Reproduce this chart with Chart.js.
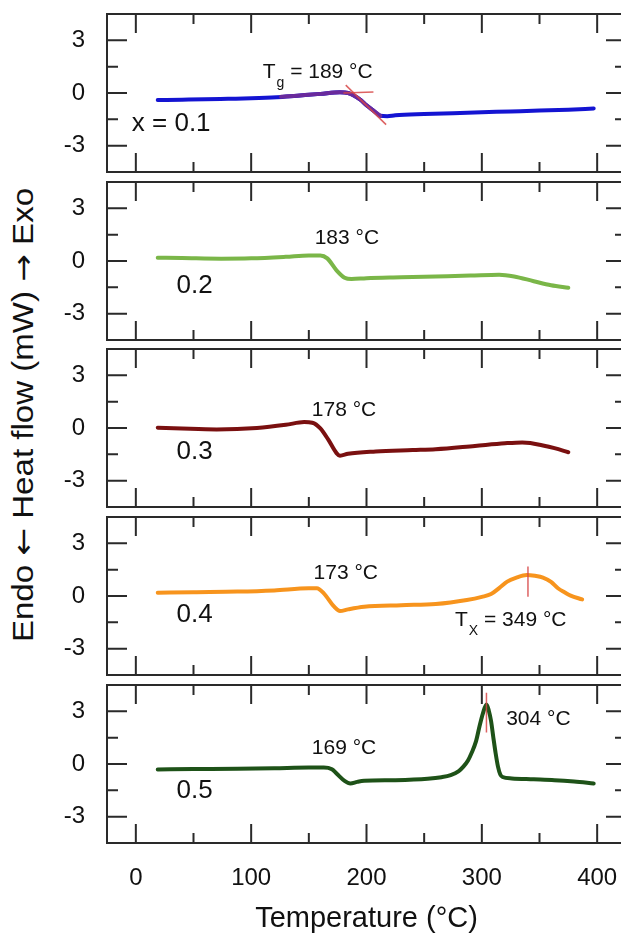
<!DOCTYPE html>
<html>
<head>
<meta charset="utf-8">
<script src="https://cdn.jsdelivr.net/npm/chart.js@4.4.1/dist/chart.umd.min.js"></script>
<style>
  html, body { margin: 0; padding: 0; background: #fff; }
  #wrap { position: relative; width: 621px; height: 933px; overflow: hidden; }
  #wrap canvas { position: absolute; left: 0; }
  #ytitle {
    position: absolute; left: 23px; top: 415px;
    transform: translate(-50%, -50%) rotate(-90deg) scaleX(1.14);
    font: 29px "Liberation Sans", Arial, sans-serif; color: #111; white-space: nowrap;
  }
  #ytitle span { font-family: "DejaVu Sans", sans-serif; }
</style>
</head>
<body>
<div id="wrap">
  <div id="ytitle">Endo <span>←</span> Heat flow (mW) <span>→</span> Exo</div>
</div>
<script>
// axis ticks
const xLabels = [0, 100, 200, 300, 400];
const xMinor = [50, 150, 250, 350];
const yLabels = [-3, 0, 3];
const yMinor = [-1.5, 1.5];

// x = 0.1
const temp01 = [19, 40, 60, 80, 100, 122, 140, 160, 177, 184, 189, 195, 200, 206, 212, 218, 225, 250, 275, 300, 325, 350, 375, 397];
const flow01 = [-0.4, -0.38, -0.36, -0.33, -0.3, -0.24, -0.15, -0.05, 0.04, 0.0, -0.14, -0.4, -0.7, -1.0, -1.3, -1.32, -1.27, -1.2, -1.15, -1.1, -1.05, -1.0, -0.95, -0.88];
const fitTemp01 = [126, 140, 160, 177, 184, 189, 195, 200, 206, 212];
const fitFlow01 = [-0.22, -0.15, -0.05, 0.04, 0.0, -0.14, -0.4, -0.7, -1.0, -1.3];
const tanTempA = [180, 206];
const tanFlowA = [0.0, 0.05];
const tanTempB = [182, 217];
const tanFlowB = [0.45, -1.8];

// x = 0.2
const temp02 = [19, 40, 74, 100, 130, 150, 160, 166, 174, 181, 187, 200, 230, 260, 290, 315, 328, 345, 360, 375];
const flow02 = [0.19, 0.17, 0.13, 0.15, 0.24, 0.32, 0.32, 0.15, -0.53, -0.95, -1.03, -0.98, -0.93, -0.88, -0.83, -0.78, -0.88, -1.15, -1.38, -1.52];

// x = 0.3
const temp03 = [19, 40, 70, 105, 130, 146, 153, 160, 167, 174, 177, 184, 208, 240, 260, 294, 320, 335, 342, 352, 363, 375];
const flow03 = [0.02, -0.03, -0.08, 0, 0.18, 0.34, 0.3, -0.02, -0.68, -1.43, -1.58, -1.47, -1.34, -1.26, -1.21, -1.02, -0.87, -0.82, -0.85, -0.98, -1.15, -1.38];

// x = 0.4
const temp04 = [19, 50, 88, 120, 150, 157, 163, 172, 177, 184, 198, 230, 260, 287, 300, 308, 315, 322, 330, 339, 346, 353, 360, 366, 372, 377, 387];
const flow04 = [0.19, 0.22, 0.25, 0.32, 0.44, 0.44, 0.15, -0.61, -0.86, -0.76, -0.61, -0.52, -0.46, -0.23, -0.05, 0.11, 0.45, 0.82, 1.05, 1.2, 1.15, 1.05, 0.8, 0.44, 0.2, 0.02, -0.19];
const markTemp04 = [340, 340];
const markFlow04 = [1.68, -0.04];

// x = 0.5
const temp05 = [19, 50, 88, 120, 150, 163, 170, 174, 181, 186, 192, 198, 225, 253, 265, 273, 280, 284, 288, 291, 295, 298, 301, 304, 306, 308, 310, 312, 314, 316, 318, 326, 345, 363, 380, 397];
const flow05 = [-0.31, -0.29, -0.27, -0.24, -0.2, -0.2, -0.3, -0.54, -0.96, -1.11, -1.02, -0.96, -0.92, -0.84, -0.75, -0.63, -0.4, -0.15, 0.2, 0.61, 1.3, 2.15, 2.9, 3.39, 3.05, 2.45, 1.5, 0.6, -0.15, -0.6, -0.74, -0.82, -0.87, -0.92, -1.0, -1.11];
const markTemp05 = [304, 304];
const markFlow05 = [4.06, 1.8];

const FONT = '"Liberation Sans", Arial, sans-serif';
Chart.defaults.font.family = FONT;

const pts = (xs, ys) => xs.map((x, i) => ({ x: x, y: ys[i] }));

function curve(xs, ys, color, order) {
  return { data: pts(xs, ys), borderColor: color, borderWidth: 4, pointRadius: 0,
    cubicInterpolationMode: 'monotone', borderCapStyle: 'round', borderJoinStyle: 'round', order: order };
}
function marker(xs, ys) {
  return { data: pts(xs, ys), borderColor: 'rgba(215,70,70,0.85)', borderWidth: 1.5, pointRadius: 0, order: 0 };
}

// frame, inward ticks and notes
function deco(notes) {
  return {
    id: 'deco',
    afterDatasetsDraw(chart) {
      const { ctx, chartArea: a, scales: { x, y } } = chart;
      ctx.save();
      ctx.strokeStyle = '#2a2a2a';
      ctx.lineWidth = 2;
      ctx.strokeRect(a.left, a.top, a.right - a.left, a.bottom - a.top);
      ctx.beginPath();
      const xt = (v, len) => {
        const p = x.getPixelForValue(v);
        ctx.moveTo(p, a.top); ctx.lineTo(p, a.top + len);
        ctx.moveTo(p, a.bottom); ctx.lineTo(p, a.bottom - len);
      };
      const yt = (v, len) => {
        const p = y.getPixelForValue(v);
        ctx.moveTo(a.left, p); ctx.lineTo(a.left + len, p);
        ctx.moveTo(a.right, p); ctx.lineTo(a.right - len, p);
      };
      xLabels.forEach(v => xt(v, 19));
      xMinor.forEach(v => xt(v, 10));
      yLabels.forEach(v => yt(v, 20));
      yMinor.forEach(v => yt(v, 11));
      ctx.stroke();

      ctx.fillStyle = '#111';
      ctx.textBaseline = 'middle';
      notes.forEach(n => {
        let px = x.getPixelForValue(n.x);
        const py = y.getPixelForValue(n.y);
        ctx.font = n.size + 'px ' + FONT;
        if (n.sub) {
          ctx.textAlign = 'left';
          ctx.fillText('T', px, py);
          px += ctx.measureText('T').width + 1;
          ctx.font = '14px ' + FONT;
          ctx.fillText(n.sub, px, py + 11);
          px += ctx.measureText(n.sub).width;
          ctx.font = n.size + 'px ' + FONT;
          ctx.fillText(n.text, px, py);
        } else {
          ctx.textAlign = n.align || 'center';
          ctx.fillText(n.text, px, py);
        }
      });
      ctx.restore();
    }
  };
}

const wrap = document.getElementById('wrap');

function panel(top, datasets, notes, last) {
  last = !!last;
  const canvas = document.createElement('canvas');
  canvas.width = 640;
  canvas.height = last ? 933 - (top - 8) : 174;
  canvas.style.top = (top - 8) + 'px';
  wrap.appendChild(canvas);
  new Chart(canvas, {
    type: 'line',
    data: { datasets: datasets },
    options: {
      responsive: false,
      animation: false,
      layout: { padding: { top: 8, bottom: last ? 0 : 8, left: 0, right: 14 } },
      plugins: { legend: { display: false }, tooltip: { enabled: false } },
      scales: {
        x: {
          type: 'linear', min: -25, max: 425, display: last,
          grid: { display: false, drawTicks: false }, border: { display: false },
          ticks: { font: { size: 24 }, color: '#111', padding: 21 },
          afterBuildTicks: s => { s.ticks = xLabels.map(v => ({ value: v })); },
          afterFit: s => { s.height = last ? 90 : 0; s.paddingLeft = 0; s.paddingRight = 0; },
          title: { display: true, text: 'Temperature (°C)', color: '#111',
            font: { size: 29, lineHeight: 1 }, padding: 0 }
        },
        y: {
          type: 'linear', min: -4.5, max: 4.5,
          grid: { display: false, drawTicks: false }, border: { display: false },
          ticks: { font: { size: 24 }, color: '#111', padding: 22 },
          afterBuildTicks: s => { s.ticks = yLabels.map(v => ({ value: v })); },
          afterFit: s => { s.width = 107; s.paddingTop = 0; s.paddingBottom = 0; }
        }
      }
    },
    plugins: [deco(notes)]
  });
}

panel(14, [
  marker(tanTempA, tanFlowA),
  marker(tanTempB, tanFlowB),
  curve(fitTemp01, fitFlow01, '#6a2a9c', 1),
  curve(temp01, flow01, '#1414d2', 2)
], [
  { x: 110, y: 1.2, text: ' = 189 °C', sub: 'g', size: 21 },
  { x: -3.5, y: -1.75, text: 'x = 0.1', size: 26, align: 'left' }
]);

panel(182, [curve(temp02, flow02, '#7ab648', 2)], [
  { x: 183, y: 1.28, text: '183 °C', size: 21 },
  { x: 51, y: -1.39, text: '0.2', size: 26 }
]);

panel(349, [curve(temp03, flow03, '#7a1010', 2)], [
  { x: 180.5, y: 0.99, text: '178 °C', size: 21 },
  { x: 51, y: -1.37, text: '0.3', size: 26 }
]);

panel(517, [marker(markTemp04, markFlow04), curve(temp04, flow04, '#f7941d', 2)], [
  { x: 182, y: 1.3, text: '173 °C', size: 21 },
  { x: 51, y: -1.09, text: '0.4', size: 26 },
  { x: 276.7, y: -1.4, text: ' = 349 °C', sub: 'X', size: 21 }
]);

panel(685, [marker(markTemp05, markFlow05), curve(temp05, flow05, '#1e5218', 2)], [
  { x: 180.5, y: 0.9, text: '169 °C', size: 21 },
  { x: 349, y: 2.57, text: '304 °C', size: 21 },
  { x: 51, y: -1.53, text: '0.5', size: 26 }
], true);
</script>
</body>
</html>
